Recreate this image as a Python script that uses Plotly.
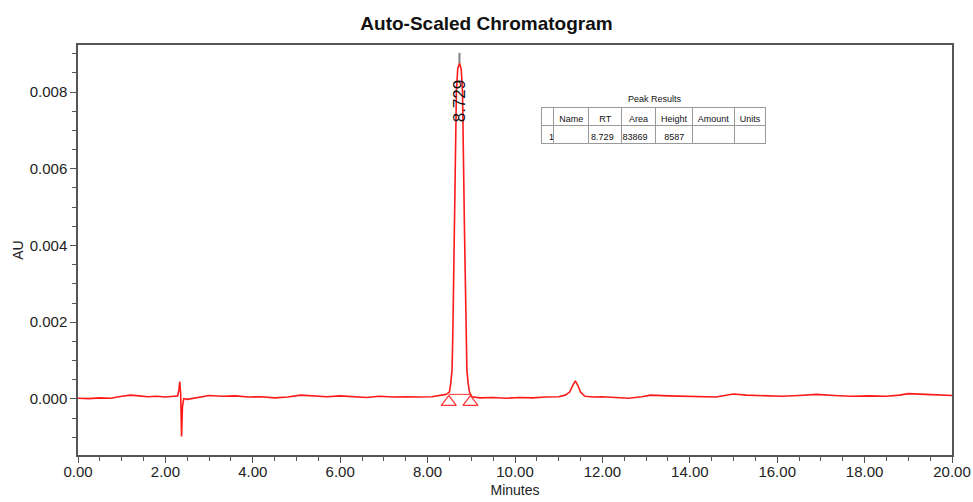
import plotly.graph_objects as go

# ---- data ----
time_min = [0.0, 0.25, 0.5, 0.75, 1.0, 1.2, 1.4, 1.6, 1.8, 2.0, 2.2, 2.28,
            2.31, 2.33, 2.35, 2.37, 2.39, 2.42, 2.5,
            2.7, 3.0, 3.3, 3.6, 3.9, 4.2, 4.5, 4.8, 5.1, 5.4, 5.7, 6.0, 6.3, 6.6, 6.9,
            7.2, 7.5, 7.8, 8.1, 8.3, 8.42,
            8.449, 8.499, 8.529, 8.559, 8.579, 8.614, 8.659, 8.689, 8.729,
            8.769, 8.799, 8.844, 8.879, 8.899, 8.929, 8.959, 9.009,
            9.2, 9.5, 9.8, 10.1, 10.4, 10.7, 11.0, 11.15, 11.25, 11.32, 11.38,
            11.44, 11.5, 11.6, 11.8, 12.0, 12.3, 12.6, 12.9, 13.1, 13.5, 13.9,
            14.3, 14.6, 14.8, 15.0, 15.3, 15.7, 16.1, 16.5, 16.9, 17.3, 17.7,
            18.1, 18.5, 18.8, 19.0, 19.4, 19.7, 20.0]
au = [0.00002, 0.00001, 0.00003, 0.00002, 0.00007, 0.0001, 0.00008, 0.00006, 0.00007, 0.00005, 0.00007, 0.00008,
      0.00025, 0.00045, 0.0001, -0.00098, -0.0002, 0.00001, -0.00001,
      0.00003, 0.00009, 0.00007, 0.00008, 0.00005, 0.00006, 0.00003, 0.00005, 0.0001, 0.00008, 0.00006, 0.00008, 0.00006, 0.00004, 0.00007,
      0.00005, 0.00006, 0.00005, 0.00006, 0.00009, 0.00012,
      0.00014, 0.00018, 0.0004, 0.00075, 0.0018, 0.0044, 0.0080, 0.0086, 0.00875,
      0.0086, 0.0080, 0.0044, 0.0018, 0.00075, 0.0004, 0.00018, 0.00006,
      0.00003, 0.00004, 0.00002, 0.00004, 0.00003, 0.00005, 0.00006, 0.0001, 0.00018, 0.00035, 0.00047,
      0.00035, 0.00018, 0.00007, 0.00005, 0.00006, 0.00004, 0.00002, 0.00006, 0.0001, 0.00008, 0.00007,
      0.00006, 0.00005, 0.00009, 0.00013, 0.0001, 0.00009, 0.00007, 0.00009, 0.00012, 0.00009, 0.00007,
      0.00008, 0.00007, 0.0001, 0.00014, 0.00012, 0.0001, 0.00009]

peak_rt = 8.729
peak_apex = 0.00875
peak_bounds_t = [8.485, 8.98]
peak_bounds_au = [0.00012, 0.00012]

tbl_header = ["", "Name", "RT", "Area", "Height", "Amount", "Units"]
tbl_row = ["1", "", "8.729", "83869", "8587", "", ""]

x_ticks = [0, 2, 4, 6, 8, 10, 12, 14, 16, 18, 20]
y_ticks = [0.0, 0.002, 0.004, 0.006, 0.008]

# ---- figure ----
L, R, T, B = 78, 21, 45, 47
W, H = 973, 502
pw, ph = W - L - R, H - T - B
FONT = "Liberation Sans, Arial"

fig = go.Figure()
fig.add_trace(go.Scatter(x=time_min, y=au, mode="lines",
                         line=dict(color="#ff1a1a", width=1.6), showlegend=False, hoverinfo="skip"))
# peak baseline
fig.add_trace(go.Scatter(x=peak_bounds_t, y=peak_bounds_au, mode="lines",
                         line=dict(color="#ff3333", width=1), showlegend=False, hoverinfo="skip"))
# peak start/end markers
fig.add_trace(go.Scatter(x=peak_bounds_t, y=[-0.00008, -0.00008], mode="markers",
                         marker=dict(symbol="triangle-up-open", size=13, color="#ff3333",
                                     line=dict(width=1.2, color="#ff3333")),
                         showlegend=False, hoverinfo="skip"))

fig.add_shape(type="line", x0=peak_rt, x1=peak_rt, y0=peak_apex, y1=0.00902,
              line=dict(color="#808080", width=2), xref="x", yref="y")
fig.add_annotation(x=peak_rt, y=0.00777, text=f"{peak_rt:.3f}", textangle=-90,
                   showarrow=False, font=dict(family=FONT, size=17, color="#111"),
                   xref="x", yref="y")

# peak results table
tx0, tx1, ty0, ty1 = 541, 767, 107, 160
fig.add_trace(go.Table(
    domain=dict(x=[(tx0 - L) / pw, (tx1 - L) / pw], y=[(H - B - ty1) / ph, (H - B - ty0) / ph]),
    columnwidth=[13, 35, 33, 34, 37, 42, 32],
    header=dict(values=tbl_header, height=18, align="center",
                fill_color="white", line=dict(color="#9a9a9a", width=1),
                font=dict(family=FONT, size=9, color="#111")),
    cells=dict(values=[[v] for v in tbl_row], height=18,
               align=["left", "center", "right", "right", "right", "center", "center"],
               fill_color="white", line=dict(color="#9a9a9a", width=1),
               font=dict(family=FONT, size=9, color="#111")),
))
fig.add_annotation(x=(655 - L) / pw, y=(H - B - 99) / ph, xref="paper", yref="paper",
                   xanchor="center", yanchor="middle",
                   text="Peak Results", showarrow=False,
                   font=dict(family=FONT, size=9, color="#111"))

axis_common = dict(showgrid=False, zeroline=False, showline=True, linecolor="#555",
                   linewidth=1.5, mirror=True, ticks="outside", tickcolor="#555",
                   automargin=False,
                   tickfont=dict(family=FONT, size=15, color="#222"))
fig.update_xaxes(range=[0, 20], tickvals=x_ticks, ticktext=[f"{v:.2f}" for v in x_ticks],
                 ticklen=6, ticklabelstandoff=-4,
                 minor=dict(dtick=0.5, ticks="outside", ticklen=4, tickcolor="#555"),
                 title=dict(text="Minutes", font=dict(family=FONT, size=14, color="#222"),
                            standoff=6),
                 **axis_common)
fig.update_yaxes(range=[-0.00146, 0.009225], tickvals=y_ticks, ticktext=[f"{v:.3f}" for v in y_ticks],
                 ticklen=6, minor=dict(dtick=0.0005, ticks="outside", ticklen=4, tickcolor="#555"),
                 title=dict(text="AU", font=dict(family=FONT, size=14, color="#222"),
                            standoff=3),
                 **axis_common)

fig.update_layout(
    width=W, height=H, margin=dict(l=L, r=R, t=T, b=B, autoexpand=False),
    paper_bgcolor="white", plot_bgcolor="white",
    title=dict(text="<b>Auto-Scaled Chromatogram</b>", x=0.5, xanchor="center", y=1 - 23 / H,
               yanchor="middle", font=dict(family=FONT, size=19, color="#111")),
)
fig.write_html("out.html", config={"displayModeBar": False},
               post_script="document.body.style.margin='0px';document.body.style.overflow='hidden';")
